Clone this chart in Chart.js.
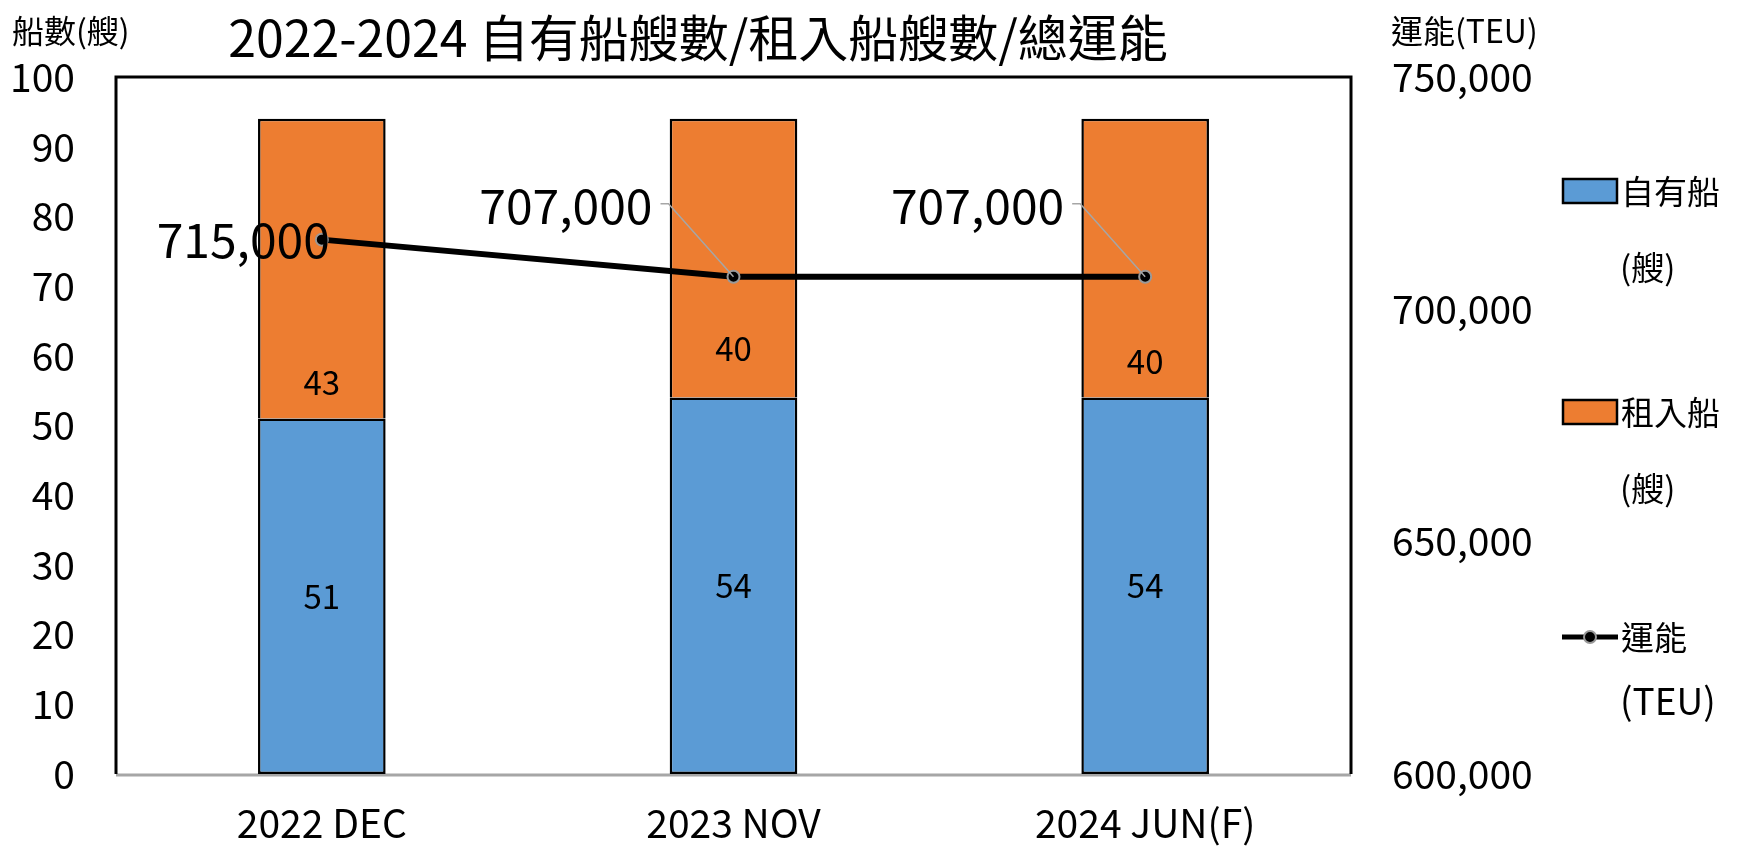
<!DOCTYPE html>
<html>
<head>
<meta charset="utf-8">
<script src="https://cdn.jsdelivr.net/npm/chart.js@4.4.0/dist/chart.umd.min.js"></script>
<style>
  html, body { margin: 0; padding: 0; background: #fff; }
</style>
</head>
<body>
<canvas id="chart" width="1746" height="850"></canvas>
<script>
// data
const categories = ["2022 DEC", "2023 NOV", "2024 JUN(F)"];
const ownShips = [51, 54, 54];
const charterShips = [43, 40, 40];
const capacityTeu = [715000, 707000, 707000];
const seriesNames = ["自有船", "租入船", "運能"];
const seriesUnits = ["(艘)", "(艘)", "(TEU)"];

const FONT = "'Noto Sans CJK TC', 'Noto Sans', sans-serif";
const BLUE = "#5B9BD5";
const ORANGE = "#ED7D31";

Chart.defaults.font.family = FONT;
Chart.defaults.color = "#000";

const fmt = (v) => v.toLocaleString("en-US");

// frame round the plot area
const framePlugin = {
  id: "frame",
  beforeDatasetsDraw(chart) {
    const { ctx, chartArea: a } = chart;
    ctx.save();
    ctx.strokeStyle = "#a6a6a6";
    ctx.lineWidth = 3;
    ctx.beginPath();
    ctx.moveTo(a.left, a.bottom + 1);
    ctx.lineTo(a.right, a.bottom + 1);
    ctx.stroke();
    ctx.strokeStyle = "#000";
    ctx.beginPath();
    ctx.moveTo(a.left, a.bottom);
    ctx.lineTo(a.left, a.top);
    ctx.lineTo(a.right, a.top);
    ctx.lineTo(a.right, a.bottom);
    ctx.stroke();
    ctx.restore();
  }
};

// value labels on bars and line
const labelPlugin = {
  id: "valueLabels",
  afterDatasetsDraw(chart) {
    const { ctx } = chart;
    ctx.save();
    ctx.fillStyle = "#000";
    ctx.textBaseline = "middle";
    ctx.textAlign = "center";

    ctx.font = "33px " + FONT;
    chart.getDatasetMeta(1).data.forEach((bar, i) => {
      ctx.fillText(String(ownShips[i]), bar.x, (bar.y + bar.base) / 2);
    });

    const orangeLift = [36, 49, 36];
    chart.getDatasetMeta(2).data.forEach((bar, i) => {
      ctx.fillText(String(charterShips[i]), bar.x, bar.base - orangeLift[i]);
    });

    ctx.font = "48px " + FONT;
    ctx.textAlign = "right";
    chart.getDatasetMeta(0).data.forEach((pt, i) => {
      if (i === 0) {
        ctx.fillText(fmt(capacityTeu[i]), pt.x + 8, pt.y);
      } else {
        ctx.fillText(fmt(capacityTeu[i]), pt.x - 81, pt.y - 71);
        ctx.strokeStyle = "#a6a6a6";
        ctx.lineWidth = 1.5;
        ctx.beginPath();
        ctx.moveTo(pt.x - 73, pt.y - 73);
        ctx.lineTo(pt.x - 65, pt.y - 73);
        ctx.lineTo(pt.x, pt.y);
        ctx.stroke();
      }
    });
    ctx.restore();
  }
};

// title, axis titles and legend
const decorPlugin = {
  id: "decor",
  afterDraw(chart) {
    const { ctx } = chart;
    ctx.save();
    ctx.fillStyle = "#000";
    ctx.textBaseline = "middle";

    ctx.textAlign = "center";
    ctx.font = "50px " + FONT;
    ctx.fillText("2022-2024 自有船艘數/租入船艘數/總運能", 698, 38);

    ctx.font = "32px " + FONT;
    ctx.textAlign = "left";
    ctx.fillText("船數(艘)", 12, 31);
    ctx.fillText("運能(TEU)", 1391, 31);

    // legend
    const rows = [191, 412, 637];
    const gaps = [76, 76, 64];
    const unitSizes = [33, 33, 37];
    chart.data.datasets.slice().sort((a, b) => a.legendIndex - b.legendIndex).forEach((ds, k) => {
      const y = rows[k];
      if (ds.type === "line") {
        ctx.strokeStyle = "#000";
        ctx.lineWidth = 5;
        ctx.beginPath();
        ctx.moveTo(1562, y);
        ctx.lineTo(1618, y);
        ctx.stroke();
        ctx.beginPath();
        ctx.arc(1590, y, 6, 0, Math.PI * 2);
        ctx.fillStyle = "#000";
        ctx.fill();
        ctx.strokeStyle = "#999";
        ctx.lineWidth = 2;
        ctx.stroke();
      } else {
        ctx.fillStyle = ds.backgroundColor;
        ctx.fillRect(1563, y - 12, 54, 24);
        ctx.strokeStyle = "#000";
        ctx.lineWidth = 2.5;
        ctx.strokeRect(1563, y - 12, 54, 24);
      }
      ctx.fillStyle = "#000";
      ctx.font = "33px " + FONT;
      ctx.fillText(ds.label, 1621, y);
      ctx.font = unitSizes[k] + "px " + FONT;
      ctx.fillText(seriesUnits[ds.legendIndex], 1620, y + gaps[k]);
    });
    ctx.restore();
  }
};

new Chart(document.getElementById("chart"), {
  data: {
    labels: categories,
    datasets: [
      {
        type: "line",
        label: seriesNames[2],
        legendIndex: 2,
        data: capacityTeu,
        yAxisID: "y1",
        borderColor: "#000",
        borderWidth: 6,
        pointRadius: 6,
        pointBackgroundColor: "#000",
        pointBorderColor: "#999",
        pointBorderWidth: 2,
        tension: 0,
        order: 0
      },
      {
        type: "bar",
        label: seriesNames[0],
        legendIndex: 0,
        data: ownShips,
        yAxisID: "y",
        stack: "ships",
        backgroundColor: BLUE,
        borderColor: "#000",
        borderWidth: 2.5,
        borderSkipped: false,
        barPercentage: 0.31,
        categoryPercentage: 1,
        order: 1
      },
      {
        type: "bar",
        label: seriesNames[1],
        legendIndex: 1,
        data: charterShips,
        yAxisID: "y",
        stack: "ships",
        backgroundColor: ORANGE,
        borderColor: "#000",
        borderWidth: 2.5,
        borderSkipped: "bottom",
        barPercentage: 0.31,
        categoryPercentage: 1,
        order: 1
      }
    ]
  },
  options: {
    responsive: false,
    animation: false,
    layout: { padding: { top: 77, left: 0, right: 0, bottom: 0 } },
    plugins: {
      legend: { display: false },
      title: { display: false },
      tooltip: { enabled: false }
    },
    scales: {
      x: {
        stacked: true,
        offset: true,
        grid: { display: false, drawTicks: false },
        border: { display: false },
        ticks: { font: { size: 39 }, color: "#000", padding: 26, maxRotation: 0 },
        afterFit: (s) => { s.height = 76; }
      },
      y: {
        position: "left",
        stacked: true,
        min: 0,
        max: 100,
        grid: { display: false, drawTicks: false },
        border: { display: false },
        ticks: { stepSize: 10, font: { size: 39 }, color: "#000", padding: 41 },
        afterFit: (s) => { s.width = 116; }
      },
      y1: {
        position: "right",
        min: 600000,
        max: 750000,
        grid: { display: false, drawTicks: false },
        border: { display: false },
        ticks: { stepSize: 50000, font: { size: 39 }, color: "#000", padding: 41, callback: (v) => fmt(v) },
        afterFit: (s) => { s.width = 395; }
      }
    }
  },
  plugins: [framePlugin, labelPlugin, decorPlugin]
});
</script>
</body>
</html>
